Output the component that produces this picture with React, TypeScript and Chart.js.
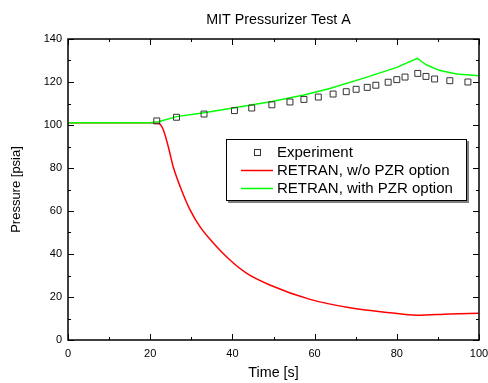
import React, { useEffect, useRef } from "react";
import { Chart, registerables } from "chart.js";

Chart.register(...registerables);

const TITLE = "MIT Pressurizer Test A";
const X_TITLE = "Time [s]";
const Y_TITLE = "Pressure [psia]";
const SERIES_LABELS = ["Experiment", "RETRAN, w/o PZR option", "RETRAN, with PZR option"];

const expTime = [21.6, 26.4, 33.1, 40.5, 44.7, 49.6, 54.0, 57.4, 60.9, 64.5, 67.7, 70.1, 72.8, 74.9, 77.9, 80.0, 82.0, 85.1, 87.1, 89.2, 92.9, 97.3];
const expPressure = [101.9, 103.6, 105.1, 106.7, 107.9, 109.4, 110.7, 111.9, 113.0, 114.4, 115.5, 116.6, 117.5, 118.5, 119.9, 121.1, 122.3, 124.0, 122.6, 121.4, 120.6, 120.0];

const woTime = [0, 10, 20, 22, 23.2, 24.4, 25.6, 27.3, 29.7, 32.1, 35.4, 39.4, 43.5, 49.1, 58.9, 68.6, 78.3, 84.8, 92.9, 100];
const woPressure = [101, 101, 101, 100.8, 97.7, 89.9, 80.6, 71.3, 60.5, 52.7, 45.0, 37.2, 31.0, 25.6, 18.9, 15.0, 12.7, 11.5, 12.1, 12.4];

const withTime = [0, 10, 20, 22, 26.4, 33.1, 40.5, 49.6, 57.4, 63.7, 71.8, 80.0, 85.0, 86.2, 87.3, 90.5, 94.6, 100];
const withPressure = [101, 101, 101, 101.5, 103.9, 105.7, 108.0, 110.9, 114.0, 117.0, 121.7, 126.8, 131.0, 129.3, 127.9, 125.3, 123.7, 122.9];

const xTicks = [0, 20, 40, 60, 80, 100];
const yTicks = [0, 20, 40, 60, 80, 100, 120, 140];

const FONT = "'Liberation Sans', Arial, Helvetica, sans-serif";
const RED = "#ff0000";
const GREEN = "#00ff00";
const MARKER = "#333333";

const toXY = (xs: number[], ys: number[]) => xs.map((x, i) => ({ x, y: ys[i] }));

const minorOf = (ticks: number[]) => ticks.slice(1).map((v, i) => (v + ticks[i]) / 2);

const framePlugin = {
  id: "frame",
  afterDatasetsDraw(chart: any) {
    const { ctx, chartArea: a, scales } = chart;
    const xs = scales.x;
    const ys = scales.y;
    ctx.save();
    ctx.strokeStyle = "#000";
    ctx.lineWidth = 1;
    ctx.beginPath();
    const xMaj = xTicks.map((v) => [v, 6]);
    const xMin = minorOf(xTicks).map((v) => [v, 3]);
    [...xMaj, ...xMin].forEach(([v, len]) => {
      const px = Math.round(xs.getPixelForValue(v)) + 0.5;
      ctx.moveTo(px, a.bottom);
      ctx.lineTo(px, a.bottom - len);
      ctx.moveTo(px, a.top);
      ctx.lineTo(px, a.top + len);
    });
    const yMaj = yTicks.map((v) => [v, 6]);
    const yMin = minorOf(yTicks).map((v) => [v, 3]);
    [...yMaj, ...yMin].forEach(([v, len]) => {
      const py = Math.round(ys.getPixelForValue(v)) + 0.5;
      ctx.moveTo(a.left, py);
      ctx.lineTo(a.left + len, py);
      ctx.moveTo(a.right, py);
      ctx.lineTo(a.right - len, py);
    });
    ctx.stroke();
    ctx.lineWidth = 1.5;
    ctx.strokeRect(a.left, a.top, a.right - a.left, a.bottom - a.top);
    ctx.restore();
  },
  afterDraw(chart: any) {
    const { ctx, chartArea: a } = chart;
    ctx.save();
    // title
    ctx.fillStyle = "#000";
    ctx.font = `14.3px ${FONT}`;
    ctx.textAlign = "center";
    ctx.textBaseline = "middle";
    ctx.fillText(TITLE, (a.left + a.right) / 2 + 5, 20);

    // legend
    const right = a.right - 12;
    const top = a.top + 100;
    const w = 241;
    const h = 62;
    const left = right - w;
    ctx.fillStyle = "#808080";
    ctx.fillRect(left + 2, top + 2, w, h);
    ctx.fillStyle = "#fff";
    ctx.fillRect(left, top, w, h);
    ctx.strokeStyle = "#000";
    ctx.lineWidth = 1;
    ctx.strokeRect(left + 0.5, top + 0.5, w - 1, h - 1);
    const rows = [top + 13, top + 31.5, top + 49.5];
    const ds = chart.data.datasets;
    ctx.font = `15px ${FONT}`;
    ctx.textAlign = "left";
    ctx.textBaseline = "middle";
    ds.forEach((d: any, i: number) => {
      const y = rows[i];
      if (d.showLine === false) {
        ctx.strokeStyle = MARKER;
        ctx.lineWidth = 1;
        ctx.strokeRect(left + 28.5, y - 2.5, 6, 6);
      } else {
        ctx.strokeStyle = d.borderColor;
        ctx.lineWidth = 1.5;
        ctx.beginPath();
        ctx.moveTo(left + 15, y);
        ctx.lineTo(left + 47, y);
        ctx.stroke();
      }
      ctx.fillStyle = "#000";
      ctx.fillText(d.label, left + 51, y + 0.5);
    });
    ctx.restore();
  },
};

export default function App() {
  const ref = useRef<HTMLCanvasElement | null>(null);
  useEffect(() => {
    if (!ref.current) return;
    const chart = new Chart(ref.current, {
      type: "line",
      data: {
        datasets: [
          {
            label: SERIES_LABELS[0],
            data: toXY(expTime, expPressure),
            showLine: false,
            pointStyle: "rect",
            pointRadius: 4.2,
            pointBorderWidth: 1,
            pointBorderColor: MARKER,
            pointBackgroundColor: "rgba(0,0,0,0)",
            borderColor: MARKER,
            order: 0,
          },
          {
            label: SERIES_LABELS[1],
            data: toXY(woTime, woPressure),
            borderColor: RED,
            borderWidth: 1.5,
            pointRadius: 0,
            cubicInterpolationMode: "monotone",
            fill: false,
            order: 2,
          },
          {
            label: SERIES_LABELS[2],
            data: toXY(withTime, withPressure),
            borderColor: GREEN,
            borderWidth: 1.5,
            pointRadius: 0,
            tension: 0,
            fill: false,
            order: 1,
          },
        ] as any,
      },
      options: {
        animation: false,
        responsive: false,
        devicePixelRatio: 1,
        layout: { padding: { left: 0, right: 9, top: 39, bottom: 0 } },
        plugins: {
          legend: { display: false },
          title: { display: false },
          tooltip: { enabled: false },
        },
        scales: {
          x: {
            type: "linear",
            min: 0,
            max: 100,
            grid: { display: false, drawTicks: false },
            border: { display: false },
            afterBuildTicks: (s: any) => {
              s.ticks = xTicks.map((v) => ({ value: v }));
            },
            afterFit: (s: any) => {
              s.height = 43;
              s.paddingLeft = 0;
              s.paddingRight = 0;
            },
            ticks: {
              color: "#000",
              font: { family: FONT, size: 11 },
              padding: 7,
              maxRotation: 0,
              autoSkip: false,
            },
            title: {
              display: true,
              text: X_TITLE,
              color: "#000",
              font: { family: FONT, size: 14.3 },
              padding: { top: 0, bottom: 1 },
            },
          },
          y: {
            type: "linear",
            min: 0,
            max: 140,
            grid: { display: false, drawTicks: false },
            border: { display: false },
            afterBuildTicks: (s: any) => {
              s.ticks = yTicks.map((v) => ({ value: v }));
            },
            afterFit: (s: any) => {
              s.width = 68;
              s.paddingTop = 0;
              s.paddingBottom = 0;
            },
            ticks: {
              color: "#000",
              font: { family: FONT, size: 11 },
              padding: 6,
              autoSkip: false,
            },
            title: {
              display: true,
              text: Y_TITLE,
              color: "#000",
              font: { family: FONT, size: 13 },
              padding: { top: 9, bottom: 0 },
            },
          },
        },
      } as any,
      plugins: [framePlugin],
    });
    return () => chart.destroy();
  }, []);
  return (
    <div style={{ position: "fixed", left: 0, top: 0, width: 488, height: 383, background: "#fff" }}>
      <canvas ref={ref} width={488} height={383} style={{ display: "block" }} />
    </div>
  );
}
